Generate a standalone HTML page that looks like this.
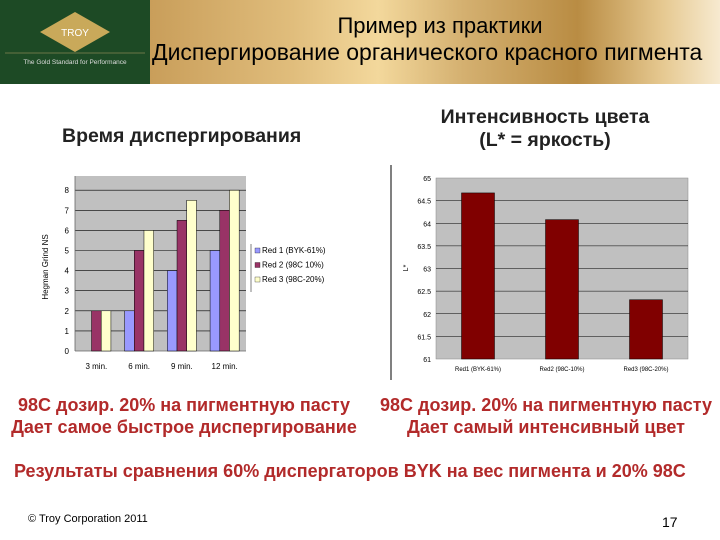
<!DOCTYPE html>
<html><head><meta charset="utf-8"><style>
body{margin:0;width:720px;height:540px;background:#fff;position:relative;overflow:hidden;font-family:"Liberation Sans","Noto Sans CJK SC",sans-serif}
.t{position:absolute;white-space:nowrap}
</style></head><body>
<div style="position:absolute;left:0;top:0;width:150px;height:84px;background:#1d4a25"></div>
<svg style="position:absolute;left:0;top:0" width="150" height="84">
<polygon points="75,12 110,32 75,52 40,32" fill="#c9a95a"/>
<text x="75" y="36" text-anchor="middle" font-size="10" fill="#fff" font-family="Liberation Sans">TROY</text>
<line x1="5" y1="53" x2="145" y2="53" stroke="#b9a46a" stroke-width="0.6"/>
<text x="75" y="64" text-anchor="middle" font-size="6.5" fill="#ddd" font-family="Liberation Sans">The Gold Standard for Performance</text>
</svg>
<div style="position:absolute;left:150px;top:0;width:570px;height:84px;background:linear-gradient(90deg,#c99e5a 0%,#e0bd7c 25%,#f3d89c 40%,#d4b070 55%,#b98c43 75%,#e6c991 90%,#f7ead0 100%)"></div>
<div class="t" style="left:150px;width:580px;top:13px;text-align:center;font-size:22px">Пример из практики</div>
<div class="t" style="left:152px;top:39px;font-size:23px">Диспергирование органического красного пигмента</div>

<div class="t" style="left:62px;top:125px;font-size:19.5px;font-weight:bold;color:#222">Время диспергирования</div>
<div class="t" style="left:385px;width:320px;top:106px;text-align:center;font-size:19.5px;font-weight:bold;line-height:23px;color:#222">Интенсивность цвета<br>(L* = яркость)</div>

<svg id="c1" style="position:absolute;left:0;top:0" width="360" height="390"></svg>
<svg id="c2" style="position:absolute;left:360px;top:0" width="360" height="390"></svg>

<div class="t" style="left:0;width:368px;top:394px;text-align:center;font-size:18px;font-weight:bold;line-height:22px;color:#b22a2a">98C дозир. 20% на пигментную пасту<br>Дает самое быстрое диспергирование</div>
<div class="t" style="left:378px;width:336px;top:394px;text-align:center;font-size:18px;font-weight:bold;line-height:22px;color:#b22a2a">98C дозир. 20% на пигментную пасту<br>Дает самый интенсивный цвет</div>
<div class="t" style="left:14px;top:461px;font-size:18px;font-weight:bold;color:#b22a2a">Результаты сравнения 60% диспергаторов BYK на вес пигмента и 20% 98C</div>
<div class="t" style="left:28px;top:513px;font-size:11px">© Troy Corporation 2011</div>
<div class="t" style="left:662px;top:514px;font-size:14px">17</div>

<script>
const NS="http://www.w3.org/2000/svg";
const cats1=["3 min.","6 min.","9 min.","12 min."];
const red1=[0,2,4,5];
const red2=[2,5,6.5,7];
const red3=[2,6,7.5,8];
const ticks1=[0,1,2,3,4,5,6,7,8];
const legend1=["Red 1 (BYK-61%)","Red 2 (98C 10%)","Red 3 (98C-20%)"];
const cats2=["Red1 (BYK-61%)","Red2 (98C-10%)","Red3 (98C-20%)"];
const vals2=[64.67,64.08,62.31];
const ticks2=[61,61.5,62,62.5,63,63.5,64,64.5,65];

function mk(p,tag,a){const e=document.createElementNS(NS,tag);for(const k in a)e.setAttribute(k,a[k]);p.appendChild(e);return e;}
function tx(p,x,y,s,size,anchor){const e=mk(p,"text",{x:x,y:y,"font-size":size,"text-anchor":anchor||"middle","font-family":"Liberation Sans"});e.textContent=s;return e;}

const c1=document.getElementById("c1");
const L=75,R=246,B=351,T=176;
const y1=v=>B-v*20.1;
let e=mk(c1,"rect",{x:L,y:T,width:R-L,height:B-T,fill:"#c0c0c0"});

ticks1.forEach(t=>{
 if(t>0){let g=mk(c1,"line",{x1:L,x2:R,y1:y1(t),y2:y1(t),stroke:"#000","stroke-width":0.6});}
 let l=tx(c1,L-6,y1(t)+3,String(t),8,"end");
});
mk(c1,"line",{x1:L,x2:L,y1:T,y2:B,stroke:"#666","stroke-width":0.8});
mk(c1,"line",{x1:L,x2:R,y1:B,y2:B,stroke:"#666","stroke-width":0.8});
const cw=(R-L)/cats1.length,bw=9.7;
const cols=["#9999ff","#993366","#ffffcc"];
const series=[red1,red2,red3];
cats1.forEach((c,i)=>{
 const cx=L+cw*(i+0.5);
 series.forEach((s,j)=>{
  if(s[i]<=0)return;
  let b=mk(c1,"rect",{x:cx-1.5*bw+j*bw,y:y1(s[i]),width:bw,height:B-y1(s[i]),fill:cols[j],stroke:"#000","stroke-width":0.5});
  
 });
 let l=tx(c1,cx,369,c,8);
});
let yt=tx(c1,0,0,"Hegman Grind NS",8);yt.setAttribute("transform","translate(48,267) rotate(-90)");

mk(c1,"line",{x1:251,x2:251,y1:244,y2:292,stroke:"#000","stroke-width":0.5});
legend1.forEach((s,j)=>{
 const yy=253+j*14.5;
 let r=mk(c1,"rect",{x:255,y:yy-5,width:5,height:5,fill:cols[j],stroke:"#000","stroke-width":0.3});
 
 let l=tx(c1,262,yy,s,8,"start");
});

const c2=document.getElementById("c2");
const L2=76,R2=328,B2=359,T2=178;
const y2=v=>B2-(v-61)*(B2-T2)/4;
mk(c2,"line",{x1:31,x2:31,y1:165,y2:380,stroke:"#000","stroke-width":1});
e=mk(c2,"rect",{x:L2,y:T2,width:R2-L2,height:B2-T2,fill:"#c0c0c0",stroke:"#888","stroke-width":0.5});

ticks2.forEach(t=>{
 if(t>61&&t<65){let g=mk(c2,"line",{x1:L2,x2:R2,y1:y2(t),y2:y2(t),stroke:"#000","stroke-width":0.6});}
 let l=tx(c2,L2-5,y2(t)+3,String(t),7,"end");
});
const cw2=(R2-L2)/cats2.length;
cats2.forEach((c,i)=>{
 const cx=L2+cw2*(i+0.5);
 let b=mk(c2,"rect",{x:cx-16.5,y:y2(vals2[i]),width:33,height:B2-y2(vals2[i]),fill:"#800000",stroke:"#000","stroke-width":0.5});
 
 let l=tx(c2,cx,371,c,6);
});
let yt2=tx(c2,0,0,"L*",7);yt2.setAttribute("transform","translate(48,268) rotate(-90)");

</script>
</body></html>
